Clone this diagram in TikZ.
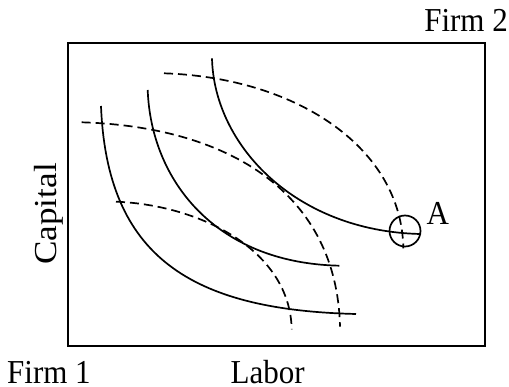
\documentclass[tikz,border=0pt]{standalone}
\usepackage{fontspec}
\setmainfont{Liberation Serif}
\newcommand{\lbltext}[1]{\scalebox{1}[1.08]{#1}}
\begin{document}
\begin{tikzpicture}[x=1pt,y=1pt,
  iso/.style={line width=1.7pt},
  dsh/.style={line width=1.7pt, dash pattern=on 9pt off 5pt},
  lbl/.style={font=\fontsize{31}{36}\selectfont, inner sep=0pt}]
\useasboundingbox (0,0) rectangle (509,-387);
\node[draw, line width=2.3pt, minimum width=417pt, minimum height=303pt, inner sep=0pt, anchor=north west] (frame) at (67,-42) {};
% Firm 1 isoquants (solid)
\draw[iso] (101,-106) .. controls (107,-256) and (190,-310) .. (356,-314);
\draw[iso] (147.7,-90) .. controls (151,-180) and (215,-263) .. (339.3,-265.7);
\draw[iso] (212,-58.3) .. controls (214,-145) and (295,-231) .. (420,-234);
% Firm 2 isoquants (dashed)
\draw[dsh] (164,-73.3) .. controls (300,-78) and (402,-150) .. (403.3,-248.3);
\draw[dsh] (81.7,-122.3) .. controls (232,-127) and (337,-195) .. (340,-326.7);
\draw[dsh] (116,-201.7) .. controls (200,-205) and (290,-250) .. (291.7,-329.3);
% point A
\node[draw, circle, line width=1.7pt, minimum size=31pt, inner sep=0pt] (circA) at (405,-231) {};
\node[lbl, anchor=base west] (A) at (426.5,-224.5) {\lbltext{A}};
% labels
\node[lbl, anchor=base east] (firm2) at (508,-32) {\lbltext{Firm 2}};
\node[lbl, anchor=base west] (firm1) at (7,-384) {\lbltext{Firm 1}};
\node[lbl, anchor=base west] (labor) at (230.5,-384) {\lbltext{Labor}};
\node[anchor=base, rotate=90, inner sep=0pt, font=\fontsize{32}{36}\selectfont] (capital) at (56.5,-214) {\scalebox{1.1}[1]{Capital}};
\end{tikzpicture}
\end{document}
